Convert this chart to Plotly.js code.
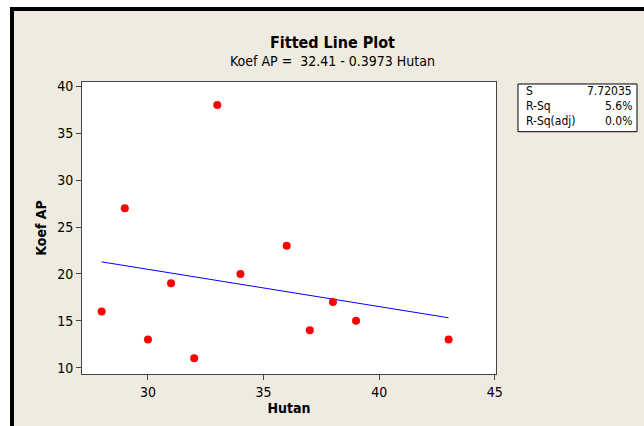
<!DOCTYPE html>
<html>
<head>
<meta charset="utf-8">
<script src="https://cdn.plot.ly/plotly-3.0.1.min.js"></script>
<style>
  html, body { margin: 0; padding: 0; background: #ffffff; }
  #frame { position: absolute; left: 10px; top: 7px; width: 634px; height: 419px;
           box-sizing: border-box; background: #EFEBE1;
           border-top: 4px solid #000; border-left: 4px solid #000; }
  #chart { position: absolute; left: 0; top: 0; width: 644px; height: 426px; }
</style>
</head>
<body>
<div id="frame"></div>
<div id="chart"></div>
<script>
// Data
const hutan  = [28, 29, 30, 31, 32, 33, 34, 36, 37, 38, 39, 43];
const koefAP = [16, 27, 13, 19, 11, 38, 20, 23, 14, 17, 15, 13];
const xTicks = [30, 35, 40, 45];
const yTicks = [10, 15, 20, 25, 30, 35, 40];
const statNames  = ["S", "R-Sq", "R-Sq(adj)"];
const statValues = ["7.72035", "5.6%", "0.0%"];
const titleText = "Fitted Line Plot";
const subtitleText = "Koef AP =  32.41 - 0.3973 Hutan";

// Least-squares fit from the data
const n = hutan.length;
const mx = hutan.reduce((a, b) => a + b, 0) / n;
const my = koefAP.reduce((a, b) => a + b, 0) / n;
let sxy = 0, sxx = 0;
for (let i = 0; i < n; i++) { sxy += (hutan[i] - mx) * (koefAP[i] - my); sxx += (hutan[i] - mx) ** 2; }
const slope = sxy / sxx, intercept = my - slope * mx;
const xmin = Math.min(...hutan), xmax = Math.max(...hutan);
const fitX = [xmin, xmax];
const fitY = fitX.map(x => intercept + slope * x);

const FONT = "DejaVu Sans Condensed, DejaVu Sans, sans-serif";

const traces = [
  { x: fitX, y: fitY, type: "scatter", mode: "lines",
    line: { color: "#0000FF", width: 1 }, hoverinfo: "skip" },
  { x: hutan, y: koefAP, type: "scatter", mode: "markers",
    marker: { color: "#FF0000", size: 8, line: { width: 0 } } }
];

const annotations = [
  { text: "<b>" + titleText + "</b>", xref: "paper", yref: "paper", x: 0.606, y: 1.134,
    showarrow: false, font: { family: FONT, size: 16, color: "#000" }, xanchor: "center", yanchor: "middle" },
  { text: subtitleText, xref: "paper", yref: "paper", x: 0.606, y: 1.072,
    showarrow: false, font: { family: FONT, size: 14, color: "#000" }, xanchor: "center", yanchor: "middle" }
];
const rowY = [0.969, 0.918, 0.866];
statNames.forEach((s, i) => {
  annotations.push({ text: s, xref: "paper", yref: "paper", x: 1.068, y: rowY[i],
    showarrow: false, xanchor: "left", yanchor: "middle", font: { family: FONT, size: 12, color: "#000" } });
  annotations.push({ text: statValues[i], xref: "paper", yref: "paper", x: 1.334, y: rowY[i],
    showarrow: false, xanchor: "right", yanchor: "middle", font: { family: FONT, size: 12, color: "#000" } });
});

const layout = {
  width: 644, height: 426,
  margin: { l: 82, r: 148, t: 82, b: 52, pad: 0 },
  paper_bgcolor: "rgba(0,0,0,0)",
  plot_bgcolor: "#FFFFFF",
  showlegend: false,
  font: { family: FONT, size: 14, color: "#000" },
  xaxis: {
    range: [27.15, 45.05], tickvals: xTicks, ticktext: xTicks.map(String),
    showgrid: false, zeroline: false, showline: true, linecolor: "#444", linewidth: 1, mirror: true,
    ticks: "outside", ticklen: 5, tickcolor: "#444",
    tickfont: { family: FONT, size: 14, color: "#000" },
    title: { text: "<b>Hutan</b>", font: { family: FONT, size: 14, color: "#000" }, standoff: 3 }
  },
  yaxis: {
    range: [9.33, 40.46], tickvals: yTicks, ticktext: yTicks.map(String),
    showgrid: false, zeroline: false, showline: true, linecolor: "#444", linewidth: 1, mirror: true,
    ticks: "outside", ticklen: 5, tickcolor: "#444",
    tickfont: { family: FONT, size: 14, color: "#000" },
    title: { text: "<b>Koef AP</b>", font: { family: FONT, size: 14, color: "#000" }, standoff: 7 }
  },
  shapes: [
    { type: "rect", xref: "paper", yref: "paper", x0: 1.0531, x1: 1.3406, y0: 0.8298, y1: 0.9932,
      line: { color: "#000", width: 1 }, fillcolor: "#FFFFFF", layer: "below" }
  ],
  annotations: annotations
};

Plotly.newPlot("chart", traces, layout, { displayModeBar: false, staticPlot: true });
</script>
</body>
</html>
